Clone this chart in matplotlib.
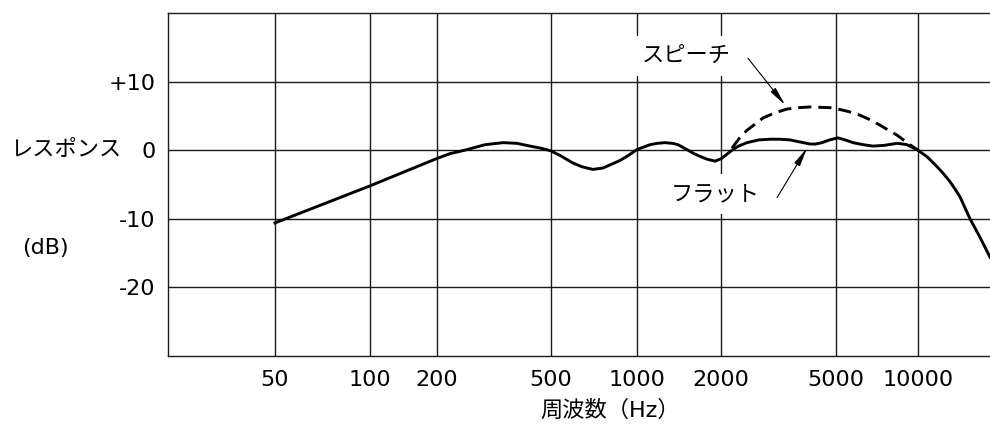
import matplotlib
matplotlib.use('agg')
import matplotlib.pyplot as plt
import numpy as np

plt.rcParams['font.family'] = ['DejaVu Sans', 'Noto Sans CJK JP']
plt.rcParams['font.size'] = 16

# flat response curve (Hz, dB)
flat_freq = [50, 100, 200, 222, 250, 294, 340, 380, 422, 460, 500, 545, 592,
             640, 701, 760, 872, 930, 1000, 1113, 1180, 1260, 1340, 1403,
             1523, 1600, 1682, 1780, 1904, 2010, 2184, 2300, 2460, 2700,
             2956, 3200, 3466, 3750, 4064, 4250, 4472, 4750, 5085, 5400,
             5772, 6300, 6836, 7500, 8374, 8800, 9112, 10000, 10800, 11680,
             12300, 12990, 13500, 14090, 15290, 16590, 18000]
flat_db = [-10.6, -5.2, -1.2, -0.5, 0.0, 0.8, 1.1, 1.0, 0.6, 0.3, -0.1, -0.9, -1.8,
           -2.4, -2.8, -2.6, -1.5, -0.8, 0.1, 0.8, 1.0, 1.1, 1.0, 0.8,
           0.0, -0.5, -0.9, -1.3, -1.6, -1.2, 0.0, 0.6, 1.1, 1.5,
           1.6, 1.6, 1.5, 1.2, 0.9, 0.9, 1.1, 1.5, 1.8, 1.5,
           1.1, 0.8, 0.6, 0.7, 1.0, 0.9, 0.8, 0.0, -1.0, -2.4,
           -3.4, -4.6, -5.6, -6.8, -10.0, -12.7, -15.6]

# speech response (dashed), branches off the flat curve
speech_freq = [2184, 2320, 2460, 2796, 3050, 3384, 3700, 4064, 4768, 5085,
               5600, 6126, 6700, 7254, 7800, 8374, 9190, 10000]
speech_db = [0.3, 1.8, 2.9, 4.7, 5.4, 6.0, 6.2, 6.3, 6.2, 6.0,
             5.6, 5.1, 4.4, 3.65, 2.9, 2.2, 1.0, 0.0]

xticks = [50, 100, 200, 500, 1000, 2000, 5000, 10000]
xtick_labels = ['50', '100', '200', '500', '1000', '2000', '5000', '10000']
yticks = [10, 0, -10, -20]
ytick_labels = ['+10', '0', '-10', '-20']

# the printed grid is not a true log axis, so map the decades piecewise
anchor_f = np.log10([25, 50, 100, 200, 500, 1000, 2000, 5000, 10000, 18000])
anchor_p = np.array([168, 275, 370, 437, 551, 637, 721, 836, 918, 990], dtype=float)

def fwd(f):
    f = np.clip(np.asarray(f, dtype=float), 1e-3, None)
    return np.interp(np.log10(f), anchor_f, anchor_p)

def inv(p):
    return 10 ** np.interp(np.asarray(p, dtype=float), anchor_p, anchor_f)

W, H = 990, 424
fig = plt.figure(figsize=(W / 100, H / 100), dpi=100)
ax = fig.add_axes([168 / W, (H - 356) / H, 1 - 168 / W, 343 / H])

ax.set_xscale('function', functions=(fwd, inv))
ax.set_xlim(25, 18000)
ax.set_ylim(-30, 20)

ax.plot(flat_freq, flat_db, color='black', lw=2.1, solid_joinstyle='round', zorder=4)
ax.plot(speech_freq, speech_db, color='black', lw=2.1, dashes=(4.5, 2.4), zorder=4)

ax.set_xticks(xticks)
ax.set_xticklabels(xtick_labels)
ax.xaxis.set_minor_locator(matplotlib.ticker.NullLocator())
ax.set_yticks(yticks)
ax.set_yticklabels(ytick_labels)
ax.tick_params(axis='both', length=0)
ax.tick_params(axis='x', pad=10)
ax.tick_params(axis='y', pad=9)

ax.grid(True, color='#1a1a1a', lw=1.0, zorder=1)
for s in ['left', 'top', 'bottom']:
    ax.spines[s].set_linewidth(1.0)
    ax.spines[s].set_color('#1a1a1a')
ax.spines['right'].set_visible(False)

box = dict(boxstyle='square,pad=0.45', fc='white', ec='none')
ax.text(1498, 13.7, 'スピーチ', ha='center', va='center', bbox=box, zorder=3)
ax.text(1904, -6.4, 'フラット', ha='center', va='center', bbox=box, zorder=3)

arrow = dict(arrowstyle='-|>,head_length=0.7,head_width=0.12', lw=0.8,
             color='black', shrinkA=0, shrinkB=0)
ax.annotate('', xy=(3331, 6.6), xytext=(2480, 13.4), arrowprops=arrow, zorder=5)
ax.annotate('', xy=(3969, 0.3), xytext=(3127, -6.9), arrowprops=arrow, zorder=5)

fig.text(10 / W, 1 - 150 / H, 'レスポンス', ha='left', va='center')
fig.text(22 / W, 1 - 248 / H, '(dB)', ha='left', va='center')
fig.text(610 / W, 1 - 410 / H, '周波数（Hz）', ha='center', va='center')

fig.savefig('out.png', dpi=100)
